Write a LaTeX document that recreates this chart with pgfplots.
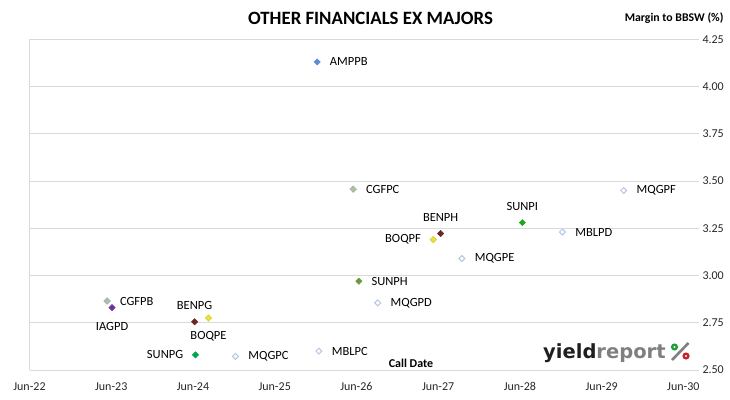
\documentclass[border=0pt]{standalone}
\usepackage{pgfplots}
\pgfplotsset{compat=1.18}
\usepackage{fontspec}
\setmainfont{Carlito}
\newfontfamily\logofont{DejaVu Sans}
\definecolor{gridgray}{HTML}{D9D9D9}
\definecolor{ampblue}{HTML}{5A8DD6}
\definecolor{cgffill}{HTML}{BCC47A}
\definecolor{cgfdraw}{HTML}{9DB1CF}
\definecolor{mqblue}{HTML}{B4C7E7}
\definecolor{sunpi}{HTML}{1CAA1C}
\definecolor{sunpg}{HTML}{00A551}
\definecolor{sunph}{HTML}{6B9A3B}
\definecolor{ben}{HTML}{6B2626}
\definecolor{boqfill}{HTML}{F2E619}
\definecolor{boqdraw}{HTML}{D2CF5A}
\definecolor{iag}{HTML}{7030A0}
\definecolor{logodark}{HTML}{1F1F1F}
\definecolor{logogray}{HTML}{7F7F7F}
\definecolor{logogreen}{HTML}{1E9E3A}
\definecolor{logored}{HTML}{C8202A}
\newcommand{\lab}{\fontsize{12.5}{14}\selectfont}
\pgfplotsset{
  dm/.style={only marks, mark=square*, mark size=2.2pt,
    mark options={rotate=45, fill=#1, draw=#1, line width=0.5pt}},
  dmb/.style 2 args={only marks, mark=square*, mark size=2.2pt,
    mark options={rotate=45, fill=#1, draw=#2, line width=0.8pt}},
  hol/.style={only marks, mark=square*, mark size=2.1pt,
    mark options={rotate=45, fill=white, draw=mqblue, line width=1pt}},
  lr/.style={nodes near coords, point meta=explicit symbolic,
    nodes near coords style={anchor=west, xshift=12.5pt, yshift=0pt, inner sep=0pt, font=\lab, text=black}},
  ll/.style={nodes near coords, point meta=explicit symbolic,
    nodes near coords style={anchor=east, xshift=-12pt, yshift=0pt, inner sep=0pt, font=\lab, text=black}},
  la/.style={nodes near coords, point meta=explicit symbolic,
    nodes near coords style={anchor=center, xshift=0pt, yshift=16.5pt, inner sep=0pt, font=\lab, text=black}},
  lb/.style={nodes near coords, point meta=explicit symbolic,
    nodes near coords style={anchor=center, xshift=0pt, yshift=-18.5pt, inner sep=0pt, font=\lab, text=black}},
}
\begin{document}
\begin{tikzpicture}[x=1pt,y=1pt]
\useasboundingbox (0,0) rectangle (730,399);
\begin{axis}[
  at={(29.5pt,29pt)}, anchor=south west,
  scale only axis, width=664.5pt, height=330.7pt,
  xmin=0, xmax=8.13, ymin=2.5, ymax=4.25,
  axis line style={draw=none},
  ymajorgrids, grid style={gridgray, line width=0.8pt},
  ytick={2.5,2.75,3,3.25,3.5,3.75,4,4.25},
  ytick pos=right, yticklabel pos=right,
  tick align=outside, major tick length=5pt,
  ytick style={gridgray, line width=0.8pt},
  yticklabel style={/pgf/number format/fixed, /pgf/number format/fixed zerofill, /pgf/number format/precision=2, /pgf/number format/assume math mode=true, font=\fontsize{12}{14}\selectfont, text=black!85},
  xtick={0,1,2,3,4,5,6,7,8},
  xticklabels={Jun-22,Jun-23,Jun-24,Jun-25,Jun-26,Jun-27,Jun-28,Jun-29,Jun-30},
  xticklabel style={font=\fontsize{12}{14}\selectfont, text=black!85, yshift=-4pt},
  xtick style={draw=none},
  extra x ticks={0}, extra x tick labels={},
  extra x tick style={grid=major, tick style={draw=none}},
  clip=false,
]
% AMP
\addplot[dm=ampblue, lr] coordinates {(3.52,4.13) [AMPPB]};
% CGF
\addplot[dmb={cgffill}{cgfdraw}, lr] coordinates {(3.96,3.457) [CGFPC] (0.95,2.865) [CGFPB]};
% MQG / MBL hollow
\addplot[hol, lr] coordinates {(7.27,3.45) [MQGPF] (6.52,3.23) [MBLPD] (5.29,3.09) [MQGPE] (4.26,2.855) [MQGPD] (2.52,2.572) [MQGPC] (3.54,2.60) [MBLPC]};
% SUN
\addplot[dm=sunpi, la] coordinates {(6.03,3.28) [SUNPI]};
\addplot[dm=sunph, lr] coordinates {(4.03,2.97) [SUNPH]};
\addplot[dm=sunpg, ll] coordinates {(2.03,2.58) [SUNPG]};
% BEN
\addplot[dm=ben, la] coordinates {(5.03,3.222) [BENPH] (2.02,2.755) [BENPG]};
% BOQ
\addplot[dmb={boqfill}{boqdraw}, ll] coordinates {(4.94,3.19) [BOQPF]};
\addplot[dmb={boqfill}{boqdraw}, lb] coordinates {(2.19,2.775) [BOQPE]};
% IAG
\addplot[dm=iag, lb] coordinates {(1.01,2.83) [IAGPD]};
\end{axis}
\node[font=\fontsize{18.8}{20}\selectfont\bfseries, text=black] at (370.5,381) {OTHER FINANCIALS EX MAJORS};
\node[anchor=east, font=\fontsize{11.8}{13}\selectfont\bfseries, text=black] at (727,381) {Margin to BBSW (\%)};
\node[font=\fontsize{12}{14}\selectfont\bfseries, text=black] at (411,36) {Call Date};
\node[anchor=base west, inner sep=0pt, font=\logofont\fontsize{19.5}{20}\selectfont\bfseries] at (543,40.7) {\textcolor{logodark}{yield}\textcolor{logogray}{report}};
\draw[logogray, line width=2.6pt] (672,39) -- (688.5,56);
\fill[logogreen] (674.5,52) circle (3.6);
\fill[white] (674.5,52) circle (1.1);
\fill[logored] (686,43) circle (3.6);
\fill[white] (686,43) circle (1.1);
\end{tikzpicture}
\end{document}
